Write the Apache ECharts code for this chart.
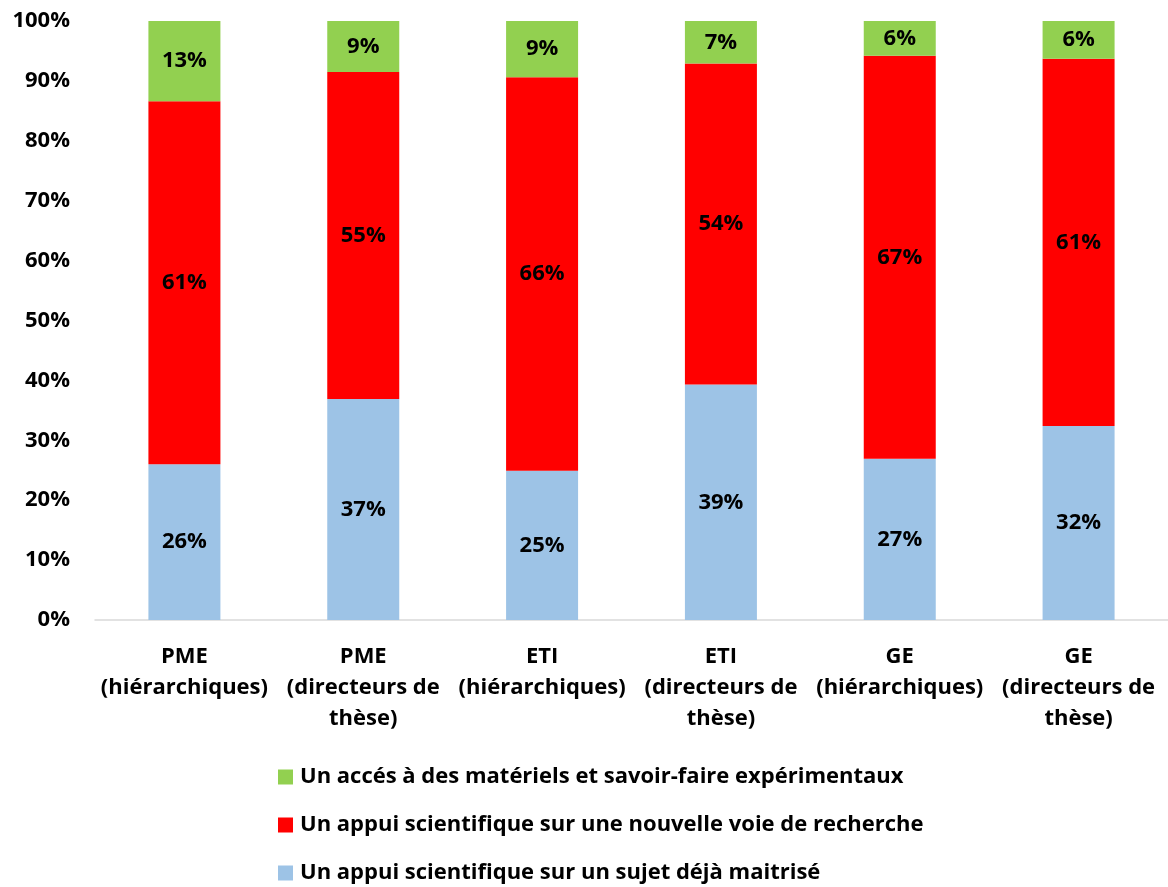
<!DOCTYPE html>
<html><head><meta charset="utf-8">
<script src="https://cdn.jsdelivr.net/npm/echarts@6/dist/echarts.min.js"></script>
<style>html,body{margin:0;padding:0;background:#fff}#c{width:1168px;height:887px}</style>
</head><body><div id="c"></div>
<script>
const categories = ['PME\n(hiérarchiques)', 'PME\n(directeurs de\nthèse)', 'ETI\n(hiérarchiques)', 'ETI\n(directeurs de\nthèse)', 'GE\n(hiérarchiques)', 'GE\n(directeurs de\nthèse)'];
const seriesNames = ['Un appui scientifique sur un sujet déjà maitrisé', 'Un appui scientifique sur une nouvelle voie de recherche', 'Un accés à des matériels et savoir-faire expérimentaux'];
const blueValues = [26.0, 36.9, 24.9, 39.3, 26.9, 32.4];
const redValues = [60.6, 54.6, 65.7, 53.6, 67.3, 61.3];
const greenValues = [13.4, 8.5, 9.4, 7.1, 5.8, 6.3];
const blueLabels = ['26%', '37%', '25%', '39%', '27%', '32%'];
const redLabels = ['61%', '55%', '66%', '54%', '67%', '61%'];
const greenLabels = ['13%', '9%', '9%', '7%', '6%', '6%'];
const yTicks = [0, 10, 20, 30, 40, 50, 60, 70, 80, 90, 100];

const FONT = 'Open Sans';
const colors = ['#9dc3e6', '#ff0000', '#92d050'];
const labelsArr = [blueLabels, redLabels, greenLabels];
const valuesArr = [blueValues, redValues, greenValues];

const chart = echarts.init(document.getElementById('c'), null, {renderer: 'canvas'});
chart.setOption({
  animation: false,
  textStyle: {fontFamily: FONT},
  grid: {left: 95, top: 21, width: 1080, height: 599, containLabel: false},
  legend: {
    orient: 'vertical', left: 278, top: 765, height: 200, padding: 0, itemGap: 24, itemWidth: 15, itemHeight: 15,
    icon: 'rect',
    data: [seriesNames[2], seriesNames[1], seriesNames[0]],
    textStyle: {fontFamily: FONT, fontWeight: 'bold', fontSize: 22, lineHeight: 24, color: '#000', padding: [0, 0, 0, 2]}
  },
  xAxis: {
    type: 'category', data: categories,
    axisLine: {lineStyle: {color: '#d9d9d9', width: 1.5}},
    axisTick: {show: false},
    axisLabel: {interval: 0, fontFamily: FONT, fontWeight: 'bold', fontSize: 22, color: '#000', lineHeight: 31, margin: 21}
  },
  yAxis: {
    type: 'value', min: yTicks[0], max: yTicks[yTicks.length - 1], interval: 10,
    axisLine: {show: false}, axisTick: {show: false}, splitLine: {show: false},
    axisLabel: {formatter: v => v + '%', fontFamily: FONT, fontWeight: 'bold', fontSize: 22, color: '#000', margin: 25}
  },
  series: valuesArr.map((vals, i) => ({
    name: seriesNames[i], type: 'bar', stack: 'total', barWidth: 72,
    itemStyle: {color: colors[i]},
    data: vals,
    label: {show: true, position: 'inside', fontFamily: FONT, fontWeight: 'bold', fontSize: 22, color: '#000',
      formatter: p => labelsArr[i][p.dataIndex]}
  }))
});
</script></body></html>
